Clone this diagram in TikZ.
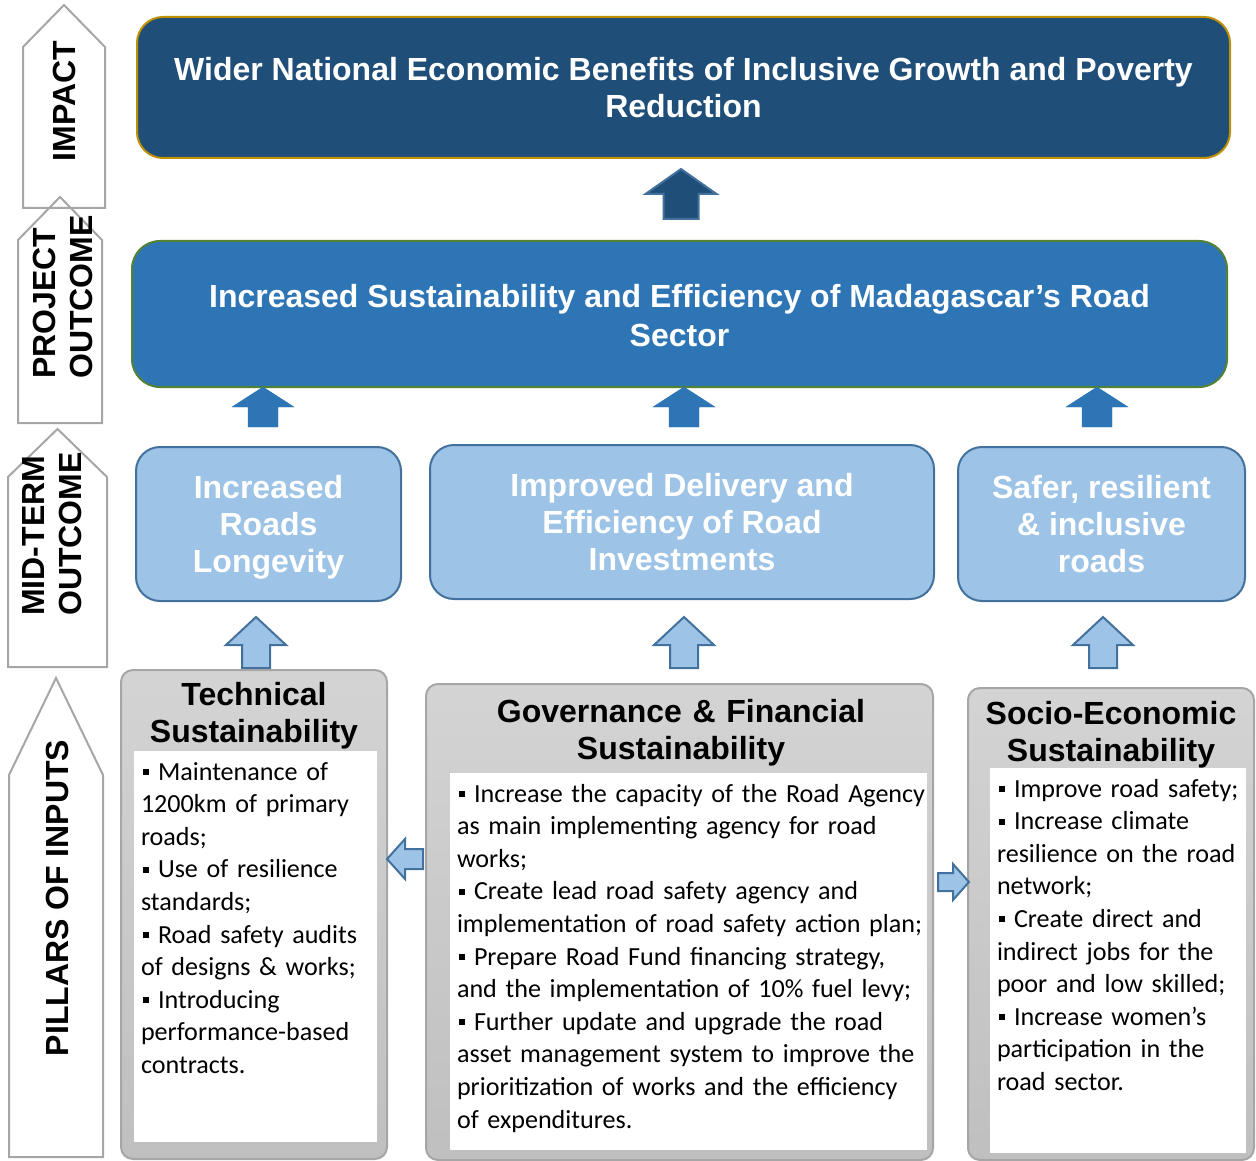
\documentclass[tikz,border=0pt]{standalone}
\usepackage{fontspec}
\setmainfont{Carlito}
\setsansfont{Liberation Sans}

\definecolor{navy}{HTML}{1F4E79}
\definecolor{gold}{HTML}{BF9000}
\definecolor{midblue}{HTML}{2E75B6}
\definecolor{leaf}{HTML}{548235}
\definecolor{paleblue}{HTML}{9DC3E6}
\definecolor{steel}{HTML}{41719C}
\definecolor{tagline}{HTML}{A6A6A6}

% small square bullet
\newcommand\sqb{\hspace*{2pt}\rule[5pt]{6pt}{6pt}\hspace{9pt}}

\begin{document}
\begin{tikzpicture}[x=1pt,y=-1pt,
  every node/.style={inner sep=0pt,outer sep=0pt},
  head/.style={font=\sffamily\bfseries\fontsize{32}{37}\selectfont,align=center},
  impactbox/.style={head,text=white,fill=navy,draw=gold,line width=2pt,rounded corners=26pt,anchor=north west},
  outcomebox/.style={impactbox,fill=midblue,draw=leaf,rounded corners=28pt,font=\sffamily\bfseries\fontsize{32}{39}\selectfont},
  midbox/.style={impactbox,fill=paleblue,draw=steel,rounded corners=24pt},
  pillar/.style={draw=tagline,line width=2pt,rounded corners=12pt,top color=black!17,bottom color=black!25,anchor=north west},
  sheet/.style={fill=white,anchor=north west},
  pillarttl/.style={head,text width=400pt,anchor=base},
  list/.style={font=\fontsize{26.1}{32.6}\selectfont,align=left,anchor=base west},
  tag/.style={draw=tagline,line width=2pt},
  taglbl/.style={head,rotate=90,align=left},
  % block arrow pointing up: length, head length, head half width, shaft half width
  pics/blk/.style n args={4}{code={
    \path[pic actions] (0,0) -- (#3,#2) -- (#4,#2) -- (#4,#1) -- (-#4,#1) -- (-#4,#2) -- (-#3,#2) -- cycle;}}
]
  \useasboundingbox (0,0) rectangle (1256,1161);

  % level tags on the left
  \foreach \xl/\xr/\ya/\ys/\yb in {23/105/5/47/208, 18/102/197/240/423, 8/107/429/477/667, 9/103/678/775/1157}
    \draw[tag] (\xl,\yb) -- (\xl,\ys) -- ({(\xl+\xr)/2},\ya) -- (\xr,\ys) -- (\xr,\yb) -- cycle;
  \node[taglbl] (impactlbl) at (64,101) {IMPACT};
  \node[taglbl] (projectlbl) at (63,297) {PROJECT\\OUTCOME};
  \node[taglbl] (midtermlbl) at (52,534) {MID-TERM\\OUTCOME};
  \node[taglbl] (inputslbl) at (57,898) {PILLARS OF INPUTS};

  % impact and project outcome
  \node[impactbox,minimum width=1093pt,minimum height=141pt] (impact) at (137,17)
    {Wider National Economic Benefits of Inclusive Growth and Poverty\\Reduction};
  \node[outcomebox,minimum width=1095pt,minimum height=146pt] (outcome) at (132,241)
    {\rule{0pt}{27pt}Increased Sustainability and Efficiency of Madagascar’s Road\\Sector};
  \pic[fill=navy,draw=steel,line width=2pt] at (681,169) {blk={50}{25}{35.5}{17.5}};

  % mid-term outcomes
  \node[midbox,minimum width=265pt,minimum height=154pt] (longevity) at (136,447) {\rule{0pt}{30pt}Increased\\Roads\\Longevity};
  \node[midbox,minimum width=504pt,minimum height=154pt] (delivery) at (430,445) {Improved Delivery and\\Efficiency of Road\\Investments};
  \node[midbox,minimum width=287pt,minimum height=154pt] (safer) at (958,447) {Safer, resilient\\\& inclusive\\roads};
  \foreach \x in {263,684,1097}
    \pic[fill=midblue,draw=midblue] at (\x,387) {blk={40}{20}{31}{15}};
  \foreach \x in {256,684,1103}
    \pic[fill=paleblue,draw=steel,line width=2pt] at (\x,617) {blk={51}{28}{30}{14}};

  % pillars
  \node[pillar,minimum width=266pt,minimum height=489pt] (technical) at (121,670) {};
  \node[sheet,minimum width=243pt,minimum height=391pt] (technicalsheet) at (134,751) {};
  \node[pillarttl] (technicalttl) at (254,705) {Technical\\Sustainability};
  \node[list,text width=300pt] (technicallist) at (141,780) {\sqb Maintenance of\\1200km of primary\\roads;\\\sqb Use of resilience\\standards;\\\sqb Road safety audits\\of designs \& works;\\\sqb Introducing\\performance-based\\contracts.};

  \node[pillar,minimum width=507pt,minimum height=476pt] (governance) at (426,684) {};
  \node[sheet,minimum width=477pt,minimum height=377pt] (governancesheet) at (450,773) {};
  \node[pillarttl] (governancettl) at (681,722) {Governance \& Financial\\Sustainability};
  \node[list,text width=540pt] (governancelist) at (457,802) {\sqb Increase the capacity of the Road Agency\\as main implementing agency for road\\works;\\\sqb Create lead road safety agency and\\implementation of road safety action plan;\\\sqb Prepare Road Fund financing strategy,\\and the implementation of 10\% fuel levy;\\\sqb Further update and upgrade the road\\asset management system to improve the\\prioritization of works and the efficiency\\of expenditures.};

  \node[pillar,minimum width=286pt,minimum height=472pt] (socio) at (968,688) {};
  \node[sheet,minimum width=256pt,minimum height=385pt] (sociosheet) at (990,768) {};
  \node[pillarttl] (sociottl) at (1111,724) {Socio-Economic\\Sustainability};
  \node[list,text width=300pt] (sociolist) at (997,797) {\sqb Improve road safety;\\\sqb Increase climate\\resilience on the road\\network;\\\sqb Create direct and\\indirect jobs for the\\poor and low skilled;\\\sqb Increase women’s\\participation in the\\road sector.};

  % side arrows between pillars
  \pic[fill=paleblue,draw=steel,line width=2pt,rotate=90] at (387,859) {blk={36}{18}{20}{10}};
  \pic[fill=paleblue,draw=steel,line width=2pt,rotate=-90] at (969,882) {blk={31}{16}{18}{9}};
\end{tikzpicture}
\end{document}
